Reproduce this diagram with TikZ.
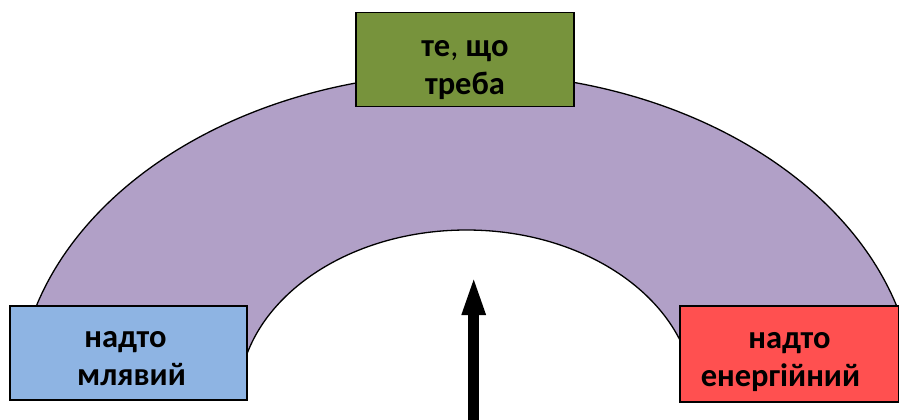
\documentclass[tikz,border=0pt]{standalone}
\usepackage{fontspec}
\setmainfont{Carlito}
\usetikzlibrary{arrows.meta}
\definecolor{arcfill}{HTML}{B1A0C7}
\definecolor{bluebox}{HTML}{8EB4E3}
\definecolor{greenbox}{HTML}{77933C}
\definecolor{redbox}{HTML}{FF5050}
\newcommand{\lowertext}[2]{\raisebox{-#1}[\height][\depth]{\begin{tabular}{@{}c@{}}#2\end{tabular}}}
\tikzset{
  label box/.style={draw=black, line width=1.5pt, align=center, inner sep=0pt,
    font=\fontsize{32.5}{38}\selectfont\bfseries, text=black},
}
\begin{document}
\begin{tikzpicture}[x=1pt,y=-1pt]
\clip (0,0) rectangle (899,420);
% arc band
\draw[fill=arcfill, line width=1.3pt]
  (17.5,400) arc[start angle=180, end angle=0, x radius=449pt, y radius=327pt]
  -- (694.5,400)
  arc[start angle=0, end angle=180, x radius=228pt, y radius=170pt]
  -- cycle;
% boxes
\node[label box, fill=bluebox, minimum width=237pt, minimum height=94pt] (slow) at (128.5,353)
  {\lowertext{6pt}{надто\hspace*{6pt}\\\hspace*{6pt}млявий}};
\node[label box, fill=redbox, minimum width=219pt, minimum height=96pt] (fast) at (789.5,354)
  {\lowertext{6pt}{надто\\енергійний\hspace*{18pt}}};
\node[label box, fill=greenbox, minimum width=218pt, minimum height=94pt] (right) at (465,59.5)
  {\lowertext{8pt}{те{\mdseries,} що\\треба}};
% arrow
\coordinate (abase) at (473.7,425);
\coordinate (atip) at (473.7,275);
\draw[line width=11pt, -{Triangle[width=21pt,length=40pt]}] (abase) -- (atip);
\end{tikzpicture}
\end{document}
